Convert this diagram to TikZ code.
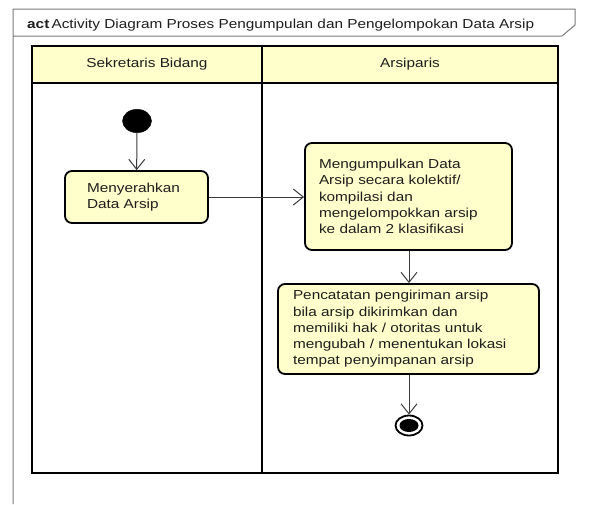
\documentclass[tikz,border=0pt]{standalone}
\usepackage{fontspec}
\setmainfont[FakeStretch=1.18]{Liberation Sans}
\usetikzlibrary{arrows.meta,shapes.geometric}
\definecolor{notefill}{HTML}{FFFFCC}
\definecolor{framegray}{HTML}{7A7A7A}
\definecolor{flowgray}{HTML}{3A3A3A}
\definecolor{inktext}{HTML}{1E1E1E}
\tikzset{
  txt/.style={font=\fontsize{13}{16.3}\selectfont, text=inktext},
  lanehead/.style={txt, draw=black, line width=2.2pt, fill=notefill, inner sep=0pt},
  lanebody/.style={draw=black, line width=2.2pt},
  actionbox/.style={txt, draw=black, line width=1.8pt, fill=notefill, rounded corners=7pt,
    align=left, inner sep=0pt},
  startdot/.style={ellipse, fill=black, draw=black, inner sep=0pt,
    minimum width=29pt, minimum height=23.4pt},
  endring/.style={ellipse, draw=black, line width=1.8pt, fill=white, inner sep=0pt,
    minimum width=27pt, minimum height=20pt},
  enddot/.style={ellipse, fill=black, inner sep=0pt,
    minimum width=19pt, minimum height=13pt},
  flow/.style={draw=flowgray, line width=1pt,
    -{Straight Barb[length=10pt,width=16pt,line width=1pt]}},
}
\begin{document}
\begin{tikzpicture}[x=1pt,y=-1pt]
\useasboundingbox (0,0) rectangle (592,504);

% diagram frame with its name tab
\draw[framegray, line width=1pt]
  (13,504) -- (13,9) -- (575,9) -- (575,25) -- (562,36) -- (13,36);
\node[txt, anchor=base west, inner sep=0pt] (title) at (27,28.5)
  {\textbf{act}\,Activity Diagram Proses Pengumpulan dan Pengelompokan Data Arsip};

% swimlanes
\draw[lanebody] (32,83) rectangle (262,473);
\draw[lanebody] (262,83) rectangle (558,473);
\node[lanehead, minimum width=230pt, minimum height=37pt] (laneA) at (147,64.5) {Sekretaris Bidang};
\node[lanehead, minimum width=296pt, minimum height=37pt] (laneB) at (410,64.5) {Arsiparis};

% activity nodes
\node[startdot] (start) at (137,121) {};
\node[actionbox, text width=99pt, minimum width=143pt, minimum height=52pt] (serah) at (136.5,197)
  {Menyerahkan\\Data Arsip};
\node[actionbox, text width=179pt, minimum width=207pt, minimum height=107pt] (kumpul) at (408.5,196.5)
  {Mengumpulkan Data\\Arsip secara kolektif/\\kompilasi dan\\mengelompokkan arsip\\ke dalam 2 klasifikasi};
\node[actionbox, text width=231pt, minimum width=261pt, minimum height=90pt] (catat) at (408.5,329)
  {Pencatatan pengiriman arsip\\bila arsip dikirimkan dan\\memiliki hak / otoritas untuk\\mengubah / menentukan lokasi\\tempat penyimpanan arsip};
\node[endring] (finish) at (409,425.5) {};
\node[enddot] (finishdot) at (finish.center) {};

% control flows
\draw[flow] (start) -- (serah);
\draw[flow] (serah.east) -- (kumpul.west |- serah.east);
\draw[flow] (kumpul.south -| finish) -- (catat.north -| finish);
\draw[flow] (catat.south -| finish) -- (finish.north);
\end{tikzpicture}
\end{document}
